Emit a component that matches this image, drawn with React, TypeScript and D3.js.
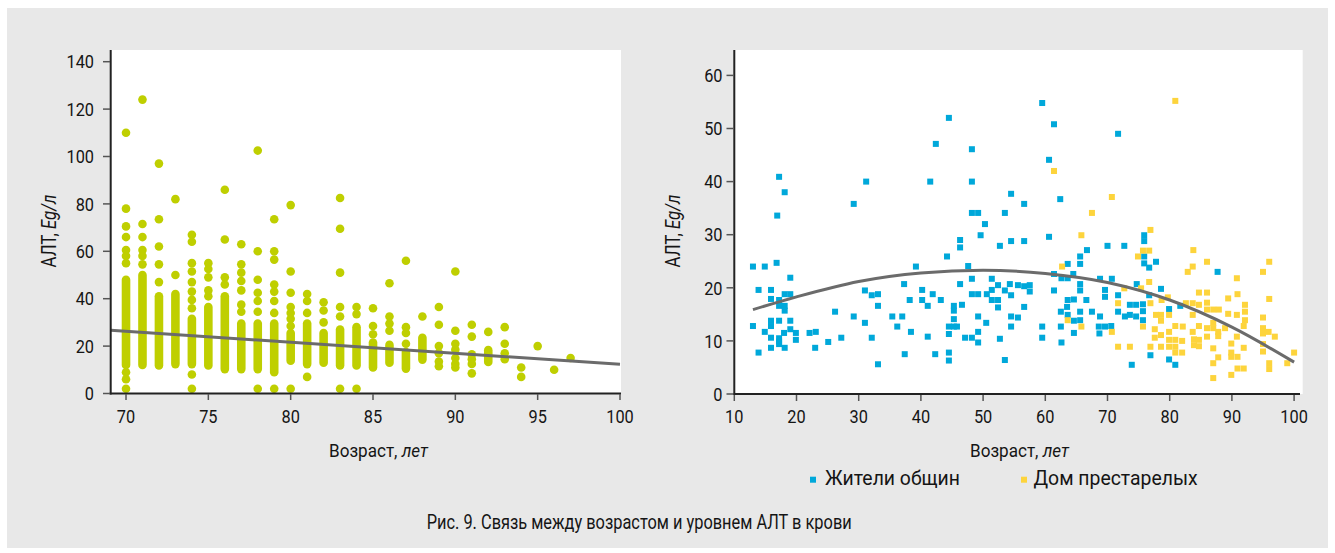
import React from "react";
import * as d3 from "d3";

// ---------- data ----------
const leftYTicks = [0, 20, 40, 60, 80, 100, 120, 140];
const leftXTicks = [70, 75, 80, 85, 90, 95, 100];
const rightYTicks = [0, 10, 20, 30, 40, 50, 60];
const rightXTicks = [10, 20, 30, 40, 50, 60, 70, 80, 90, 100];

// dense vertical runs of overlapping dots: [age, low, high]
const leftBands: [number, number, number][] = [
  [70, 12, 48], [71, 12, 50], [72, 11.8, 41], [73, 12.4, 42], [74, 12.4, 31.5],
  [75, 11.8, 36.5], [76, 10.3, 41], [77, 10.3, 29.5], [78, 10.3, 29.5], [79, 9, 29.5],
  [80, 13.8, 25.5], [81, 12.4, 29.5], [82, 13, 25.5], [83, 11.8, 27], [84, 11.8, 28],
  [85, 11, 21.5], [86, 13, 20.5], [87, 10.5, 17.5], [88, 14.3, 23.5], [92, 13.3, 18.3],
];

// individual dots: [age, ALT]
const leftPoints: [number, number][] = [
  [70, 110], [70, 78], [70, 70.5], [70, 66], [70, 60.5], [70, 58], [70, 55], [70, 9], [70, 6], [70, 2],
  [71, 124], [71, 71.5], [71, 66], [71, 60.5], [71, 58], [71, 54.5],
  [72, 97], [72, 73.5], [72, 62], [72, 54.5], [72, 47],
  [73, 82], [73, 50],
  [74, 67], [74, 64], [74, 55], [74, 51.5], [74, 47], [74, 43], [74, 39.5], [74, 36], [74, 8], [74, 2],
  [75, 55], [75, 52.5], [75, 49], [75, 43.5], [75, 41],
  [76, 86], [76, 65], [76, 49], [76, 46],
  [77, 63], [77, 54.5], [77, 51], [77, 47.5], [77, 43.5], [77, 37.5], [77, 34.5],
  [78, 102.5], [78, 60], [78, 48], [78, 42.5], [78, 39], [78, 34.5], [78, 2],
  [79, 73.5], [79, 60], [79, 56.5], [79, 46], [79, 43], [79, 39], [79, 34], [79, 2],
  [80, 79.5], [80, 51.5], [80, 42.5], [80, 36.5], [80, 34], [80, 31.5], [80, 28.5], [80, 2],
  [81, 42], [81, 39], [81, 34], [81, 7],
  [82, 38.5], [82, 35], [82, 30],
  [83, 82.5], [83, 69.5], [83, 51], [83, 36.5], [83, 32.5], [83, 2],
  [84, 36.5], [84, 33.5], [84, 2],
  [85, 36], [85, 28.5], [85, 25],
  [86, 46.5], [86, 32.5], [86, 29.5], [86, 26.5],
  [87, 56], [87, 28], [87, 25.5], [87, 21],
  [88, 32.5],
  [89, 36.5], [89, 29], [89, 20], [89, 17], [89, 13.5], [89, 11.5],
  [90, 51.5], [90, 26.5], [90, 21], [90, 18.5], [90, 15], [90, 12.5], [90, 11],
  [91, 29], [91, 24], [91, 16.5], [91, 14.5], [91, 12.5], [91, 8.5],
  [92, 26],
  [93, 28], [93, 21], [93, 17], [93, 14.5],
  [94, 11], [94, 7], [95, 20], [96, 10], [97, 15],
];

// linear trend (left): [age, ALT]
const leftTrend: [number, number][] = [[69.07, 26.7], [100, 12.3]];

// community residents: [age, ALT]
const communityPoints: [number, number][] = [
  [13, 24], [14.9, 24], [16.8, 24.7], [19, 21.9], [13.9, 19.6], [15.9, 19.6], [15.9, 17.9], [17.2, 17.7],
  [18.1, 18.8], [19, 18.8], [17.2, 16.6], [18.1, 16.6], [18.1, 15.7], [13, 12.8], [14.9, 11.7], [15.9, 13.8],
  [15.9, 12.8], [17.2, 13.8], [19, 13.8], [19, 12.2], [18, 11.5], [19.9, 11.5], [19.9, 10.2], [15.9, 10.6],
  [17.2, 10.5], [17.2, 9.9], [17.2, 9.4], [15.9, 8.7], [18.1, 8.7], [13.9, 7.8], [17.2, 40.9], [18.1, 38],
  [16.9, 33.6], [22.1, 11.5], [23.1, 11.7], [23, 8.7], [25.1, 9.8], [26.2, 15.5], [27.2, 10.6], [29.2, 14.6],
  [29.2, 35.8], [31.2, 40], [31, 19.5], [31, 13.4], [32.1, 18.6], [33.1, 18.8], [33.1, 16.6], [32.1, 10.6],
  [33.1, 5.6], [35.4, 14.6], [37, 14.6], [36.2, 12.7], [37.3, 20.7], [37.4, 7.5], [39.2, 24], [38.2, 17.7],
  [38.4, 11.7], [40.2, 19.6], [40.2, 17.7], [41.1, 16.6], [41.1, 10.8], [41.9, 18.8], [42.3, 7.5], [43.2, 17.7],
  [44.2, 25.9], [44.5, 12.7], [44.5, 11.3], [44.5, 7.8], [44.5, 6.3], [45.3, 16.6], [45.3, 15.7], [45.3, 14.1],
  [45.3, 12.7], [45.8, 12.7], [46.3, 29], [46.3, 27.6], [46.3, 20.7], [46.6, 16.8], [47.6, 24.1], [47.1, 10.6],
  [48.2, 10.6], [48.2, 21.7], [48.2, 18.8], [49.2, 18.8], [49.2, 14.6], [49.2, 11.7], [49.2, 9.7],
  [41.5, 40], [42.4, 47.1], [44.5, 52], [48.2, 46.1], [48.2, 40], [48.2, 34.1], [49.2, 34.1], [49.6, 29.9],
  [59.5, 54.8], [61.4, 50.8], [71.7, 49], [60.6, 44.1], [54.5, 37.7], [56.6, 35.8], [62.4, 36.7], [53.5, 34.1],
  [50.3, 32], [54.5, 28.8], [56.6, 28.8], [52.7, 27.9], [60.6, 29.6], [75.9, 29.9], [75.9, 28.8], [66.7, 27.1],
  [70, 27.9], [72.7, 27.9],
  [50.5, 13.4], [50.6, 18.8], [51.4, 21.7], [51.4, 19.6], [51.4, 17.7], [52.4, 17.7], [52.4, 20.5], [52.4, 16.3],
  [52.7, 10.4], [53.5, 19.5], [53.5, 6.4], [54.3, 20.7], [54.5, 18.6], [54.5, 14.6], [54.5, 12.7], [55.6, 20.5],
  [55.6, 14.4], [56.6, 20.3], [56.6, 16.4], [57.5, 20.5], [57.5, 19.3], [59.5, 12.7], [59.5, 10.6], [61.4, 22.6],
  [61.4, 19.5], [62.5, 15.5], [62.6, 21.8], [62.5, 12.7], [62.6, 9.7], [63.6, 24.5], [63.6, 21.8], [63.6, 17.7],
  [63.5, 16.4], [63.6, 14.9], [64.5, 22.6], [64.6, 17.8], [64.6, 13.8], [64.6, 11.5], [65.6, 25.9], [65.6, 24.5],
  [65.6, 20.7], [65.6, 19.5], [65.6, 15.5], [65.6, 13.9], [66.6, 17.7], [67.5, 15.5], [68.8, 21.7], [68.8, 14.6],
  [68.6, 12.7], [69.6, 12.7], [68.7, 11.4], [69.6, 19.6], [69.6, 18.3], [70.6, 12.8], [70.7, 21.7], [71.7, 18.6],
  [71.7, 15.5], [72.8, 14.6], [73.6, 16.8], [74.6, 16.8], [73.6, 14.9], [74.6, 14.6], [73.9, 5.5], [74.7, 20.7],
  [75.7, 16.9], [75.7, 15.6], [75.7, 13.9], [75.9, 25.9], [75.9, 24.6], [76.7, 23.8], [76.7, 18.6], [76.9, 7.3],
  [77.8, 24.9], [78.6, 19.8], [79.9, 16], [79.9, 6.5], [80.9, 5.5], [81.7, 16.6], [87.7, 23],
];

// nursing home residents: [age, ALT]
const nursingPoints: [number, number][] = [
  [80.9, 55.2], [61.4, 42], [70.7, 37.1], [67.5, 34.1], [65.8, 29.9], [76.9, 30.9], [75.7, 27], [76.7, 27],
  [83.8, 27.1], [62.7, 24], [63.6, 13.9], [65.8, 12.7], [70.7, 11.7], [71.7, 17.1], [71.7, 8.9], [72.7, 19.9],
  [73.6, 8.9], [74.9, 25.9], [75.4, 19.9], [75.7, 12.7], [76.7, 21.1], [76.9, 17.1], [76.9, 8.9], [77.8, 14.9],
  [78.6, 14.9], [78.6, 13.8], [77.6, 12.2], [78.6, 11.1], [77.6, 10.6], [78.6, 8.9], [78.7, 17.7], [79.7, 18.2],
  [79.9, 14.9], [79.9, 11.7], [79.9, 10.2], [79.9, 8.9], [80.9, 12.8], [80.9, 10.2], [80.9, 8.9], [80.9, 7.8],
  [82, 10], [82, 7.8], [82.1, 12.7], [82.6, 17.1], [82.9, 23], [83.7, 24], [83.7, 17.1], [83.7, 14.9],
  [83.7, 11.7], [83.9, 10.3], [83.9, 9.2], [84.7, 19.1], [84.7, 16.8], [84.7, 12.8], [84.7, 10.2], [84.7, 9],
  [86, 24.9], [86, 19.1], [86, 17.2], [86, 15.9], [87, 15.9], [87.9, 15.9], [86, 12.4], [87, 12.4],
  [86, 10.8], [87, 13.4], [87, 8.6], [87, 5.8], [87, 3], [87.8, 11.7], [87.8, 10.9], [87.8, 6.9],
  [88.9, 12.4], [89.4, 18], [89.4, 15.1], [89.9, 9.5], [89.9, 7.8], [89.9, 7], [89.9, 3.6], [90.8, 21.8],
  [90.8, 14.9], [90.8, 10.8], [90.9, 18.8], [90.9, 7], [90.9, 4.8], [91.9, 4.8], [91.9, 12.8], [91.9, 8.7],
  [92.1, 16.8], [92.1, 15.5], [92.1, 13.9], [95, 23], [95, 14.4], [95, 12.4], [95, 11.4], [95.9, 11.7],
  [95, 9.4], [95, 8], [96, 24.9], [96, 17.9], [96, 5.8], [96, 4.7], [96.9, 10.8], [98.9, 5.8], [100, 7.8],
];

// polynomial trend (right): [age, ALT]
const rightTrend: [number, number][] = [
  [13, 15.9], [20, 18.3], [30, 21.2], [40, 22.8], [50, 23.3], [60, 22.7], [70, 21], [80, 17.7], [90, 12.6], [100, 6],
];

const legendLabels = ["Жители общин", "Дом престарелых"];
const caption = "Рис. 9. Связь между возрастом и уровнем АЛТ в крови";

// ---------- style ----------
const BG = "#e8e8e8";
const GREEN = "#bfcf00";
const BLUE = "#00a8da";
const YELLOW = "#fdd43c";
const TREND = "#6b6b6b";
const FONT = "Roboto, 'Liberation Sans', sans-serif";
const TXT = "#151515";

// condensed-looking text: horizontal squeeze around the anchor point
function T(props: {
  x: number;
  y: number;
  size: number;
  sx?: number;
  rotate?: number;
  anchor?: "start" | "middle" | "end";
  children: React.ReactNode;
}) {
  const { x, y, size, sx = 1, rotate = 0, anchor = "start", children } = props;
  return (
    <text
      transform={`translate(${x},${y}) rotate(${rotate}) scale(${sx},1)`}
      textAnchor={anchor}
      fontFamily={FONT}
      fontSize={size}
      fill={TXT}
    >
      {children}
    </text>
  );
}

export default function App() {
  const xL = d3.scaleLinear().domain([69.07, 100]).range([110.7, 620]);
  const yL = d3.scaleLinear().domain([0, 140]).range([393.5, 61.7]);
  const xR = d3.scaleLinear().domain([10, 100]).range([734.3, 1294.1]);
  const yR = d3.scaleLinear().domain([0, 60]).range([394, 75.4]);

  const lineL = d3.line<[number, number]>().x((d) => xL(d[0])).y((d) => yL(d[1]));
  const lineR = d3
    .line<[number, number]>()
    .x((d) => xR(d[0]))
    .y((d) => yR(d[1]))
    .curve(d3.curveMonotoneX);

  const dotR = 4.3;
  const sq = 6;
  const tickSize = 19;
  const tickSx = 0.86;

  const yLabel = (x: number, y: number) => (
    <T x={x} y={y} size={20} sx={0.84} rotate={-90} anchor="middle">
      АЛТ, <tspan fontStyle="italic">Eg/л</tspan>
    </T>
  );
  const xLabel = (x: number, y: number) => (
    <T x={x} y={y} size={19} sx={0.9}>
      Возраст, <tspan fontStyle="italic">лет</tspan>
    </T>
  );

  return (
    <svg
      width={1335}
      height={553}
      style={{ position: "absolute", left: 0, top: 0, display: "block" }}
    >
      <rect x={0} y={0} width={1335} height={553} fill="#fff" />
      <rect x={7} y={8} width={1321} height={540} fill={BG} />

      {/* ---------- Left chart ---------- */}
      <rect x={110.7} y={50} width={621 - 110.7} height={393.5 - 50} fill="#fff" />
      {leftBands.map((b, i) => (
        <line
          key={"b" + i}
          x1={xL(b[0])}
          x2={xL(b[0])}
          y1={yL(b[1])}
          y2={yL(b[2])}
          stroke={GREEN}
          strokeWidth={dotR * 2}
          strokeLinecap="round"
        />
      ))}
      {leftPoints.map((p, i) => (
        <circle key={"p" + i} cx={xL(p[0])} cy={yL(p[1])} r={dotR} fill={GREEN} />
      ))}
      <path d={lineL(leftTrend) || ""} fill="none" stroke={TREND} strokeWidth={3} />
      <line x1={110.7} x2={110.7} y1={50} y2={394.5} stroke="#222" strokeWidth={2} />
      <line x1={109.7} x2={621} y1={393.5} y2={393.5} stroke="#222" strokeWidth={2} />
      {leftYTicks.map((t) => (
        <g key={"ly" + t}>
          <line x1={103} x2={110} y1={yL(t)} y2={yL(t)} stroke="#555" strokeWidth={1.5} />
          <T x={94} y={yL(t) + 6.7} size={tickSize} sx={tickSx} anchor="end">
            {t}
          </T>
        </g>
      ))}
      {leftXTicks.map((t) => (
        <g key={"lx" + t}>
          <line x1={xL(t)} x2={xL(t)} y1={394} y2={400} stroke="#555" strokeWidth={1.5} />
          <T x={xL(t)} y={423.3} size={tickSize} sx={tickSx} anchor="middle">
            {t}
          </T>
        </g>
      ))}
      {yLabel(56, 231)}
      {xLabel(329, 456.5)}

      {/* ---------- Right chart ---------- */}
      <rect x={734.3} y={50} width={1302.7 - 734.3} height={394 - 50} fill="#fff" />
      {communityPoints.map((p, i) => (
        <rect
          key={"c" + i}
          x={xR(p[0]) - sq / 2}
          y={yR(p[1]) - sq / 2}
          width={sq}
          height={sq}
          fill={BLUE}
        />
      ))}
      {nursingPoints.map((p, i) => (
        <rect
          key={"n" + i}
          x={xR(p[0]) - sq / 2}
          y={yR(p[1]) - sq / 2}
          width={sq}
          height={sq}
          fill={YELLOW}
        />
      ))}
      <path d={lineR(rightTrend) || ""} fill="none" stroke={TREND} strokeWidth={3} />
      <line x1={734.3} x2={734.3} y1={50} y2={395} stroke="#222" strokeWidth={2} />
      <line x1={733.3} x2={1300} y1={394} y2={394} stroke="#222" strokeWidth={2} />
      {rightYTicks.map((t) => (
        <g key={"ry" + t}>
          <line x1={726.5} x2={733.5} y1={yR(t)} y2={yR(t)} stroke="#555" strokeWidth={1.5} />
          <T x={722.5} y={yR(t) + 6.7} size={tickSize} sx={tickSx} anchor="end">
            {t}
          </T>
        </g>
      ))}
      {rightXTicks.map((t) => (
        <g key={"rx" + t}>
          <line x1={xR(t)} x2={xR(t)} y1={395} y2={401} stroke="#555" strokeWidth={1.5} />
          <T x={xR(t)} y={423.3} size={tickSize} sx={tickSx} anchor="middle">
            {t}
          </T>
        </g>
      ))}
      {yLabel(680, 231)}
      {xLabel(970, 456.5)}

      {/* legend */}
      <rect x={810} y={476.7} width={sq} height={sq} fill={BLUE} />
      <T x={825} y={485} size={20} sx={0.97}>
        {legendLabels[0]}
      </T>
      <rect x={1021} y={476.7} width={sq} height={sq} fill={YELLOW} />
      <T x={1033.5} y={485} size={20} sx={0.97}>
        {legendLabels[1]}
      </T>

      {/* caption */}
      <text
        x={426.7}
        y={529.3}
        fontFamily={FONT}
        fontSize={20}
        fill={TXT}
        textLength={425}
        lengthAdjust="spacingAndGlyphs"
      >
        {caption}
      </text>
    </svg>
  );
}
